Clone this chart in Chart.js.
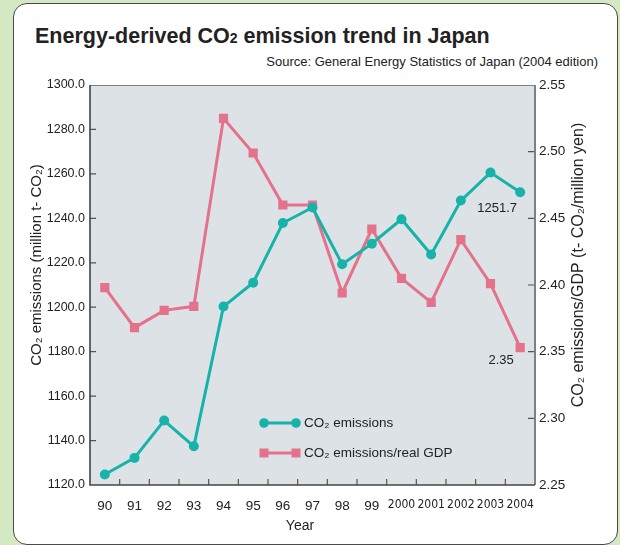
<!DOCTYPE html>
<html>
<head>
<meta charset="utf-8">
<script src="https://cdn.jsdelivr.net/npm/chart.js@4.4.1/dist/chart.umd.min.js"></script>
<style>
  html, body { margin: 0; padding: 0; }
  body { width: 620px; height: 545px; background: #d4e8c4; position: relative; overflow: hidden;
         font-family: "Liberation Sans", Arial, sans-serif; }
  .card { position: absolute; left: 13px; top: 3px; width: 603px; height: 540px;
          background: #fff; border: 1.5px solid #4a4a4a; border-radius: 14px; }
  .title { position: absolute; left: 35px; top: 24px; font-size: 21.5px; font-weight: bold; color: #222; }
  .title sub { font-size: 14px; vertical-align: baseline; }
  .source { position: absolute; right: 22px; top: 54px; font-size: 13px; color: #222; }
  canvas { position: absolute; left: 0; top: 0; }
</style>
</head>
<body>
<div class="card"></div>
<div class="title">Energy-derived CO<sub>2</sub> emission trend in Japan</div>
<div class="source">Source: General Energy Statistics of Japan (2004 edition)</div>
<canvas id="chart" width="620" height="545"></canvas>
<script>
const years = ['90', '91', '92', '93', '94', '95', '96', '97', '98', '99', '2000', '2001', '2002', '2003', '2004'];
const co2Emissions = [1124.7, 1132.2, 1149.0, 1137.4, 1200.3, 1211.0, 1237.9, 1244.9, 1219.3, 1228.6, 1239.6, 1223.7, 1248.0, 1260.6, 1251.7];
const co2PerGdp = [2.398, 2.368, 2.381, 2.384, 2.525, 2.499, 2.460, 2.460, 2.394, 2.442, 2.405, 2.387, 2.434, 2.401, 2.353];
const lastLabels = ['1251.7', '2.35'];

const teal = '#17b3ab';
const pink = '#e3728a';
const ink = '#222';
const sans = '"Liberation Sans", Arial, sans-serif';
const narrow = '"Liberation Sans Narrow", "DejaVu Sans Condensed", sans-serif';

// plot background, frame and inward ticks
const framePlugin = {
    id: 'frame',
    beforeDatasetsDraw(chart) {
        const {ctx, chartArea: a, scales} = chart;
        ctx.save();
        ctx.fillStyle = '#dde2e6';
        ctx.fillRect(a.left, a.top, a.right - a.left, a.bottom - a.top);

        ctx.strokeStyle = '#555';
        ctx.lineWidth = 1.2;
        ctx.beginPath();
        scales.y.ticks.forEach((t, i) => {
            if (i === 0 || i === scales.y.ticks.length - 1) return;
            const p = scales.y.getPixelForValue(t.value);
            ctx.moveTo(a.left, p); ctx.lineTo(a.left + 6, p);
        });
        scales.y1.ticks.forEach((t, i) => {
            if (i === 0 || i === scales.y1.ticks.length - 1) return;
            const p = scales.y1.getPixelForValue(t.value);
            ctx.moveTo(a.right - 7, p); ctx.lineTo(a.right, p);
        });
        for (let i = 0; i < years.length - 1; i++) {
            const p = (scales.x.getPixelForTick(i) + scales.x.getPixelForTick(i + 1)) / 2;
            ctx.moveTo(p, a.bottom); ctx.lineTo(p, a.bottom - 6);
        }
        ctx.stroke();

        // top + right edges (grey)
        ctx.strokeStyle = '#808080';
        ctx.lineWidth = 1;
        ctx.beginPath();
        ctx.moveTo(a.left, a.top + 0.5); ctx.lineTo(a.right, a.top + 0.5);
        ctx.stroke();
        ctx.lineWidth = 2;
        ctx.beginPath();
        ctx.moveTo(a.right, a.top); ctx.lineTo(a.right, a.bottom);
        ctx.stroke();
        // left + bottom edges (dark)
        ctx.strokeStyle = '#444';
        ctx.lineWidth = 1.6;
        ctx.beginPath();
        ctx.moveTo(a.left, a.top); ctx.lineTo(a.left, a.bottom); ctx.lineTo(a.right, a.bottom);
        ctx.stroke();
        ctx.restore();
    },
    afterDraw(chart) {
        const {ctx} = chart;
        ctx.save();
        ctx.fillStyle = ink;

        // axis titles
        ctx.font = '15px ' + sans;
        ctx.textAlign = 'center';
        ctx.textBaseline = 'middle';
        ctx.save();
        ctx.translate(37, 265);
        ctx.rotate(-Math.PI / 2);
        ctx.fillText('CO₂ emissions (million t- CO₂)', 0, 0);
        ctx.restore();
        ctx.font = '16px ' + sans;
        ctx.save();
        ctx.translate(579, 265);
        ctx.rotate(-Math.PI / 2);
        ctx.fillText('CO₂ emissions/GDP (t- CO₂/million yen)', 0, 0);
        ctx.restore();
        ctx.font = '14px ' + sans;
        ctx.fillText('Year', 300, 526);

        // end labels
        ctx.font = '13px ' + sans;
        const p0 = chart.getDatasetMeta(0).data[years.length - 1];
        const p1 = chart.getDatasetMeta(1).data[years.length - 1];
        ctx.fillText(lastLabels[0], p0.x - 23, p0.y + 16);
        ctx.fillText(lastLabels[1], p1.x - 19, p1.y + 13);

        // legend
        const lx1 = 264, lx2 = 296;
        const ly = [423, 453];
        ctx.lineWidth = 3;
        ctx.strokeStyle = teal;
        ctx.beginPath(); ctx.moveTo(lx1, ly[0]); ctx.lineTo(lx2, ly[0]); ctx.stroke();
        ctx.fillStyle = teal;
        [lx1, lx2].forEach(x => { ctx.beginPath(); ctx.arc(x, ly[0], 4.8, 0, Math.PI * 2); ctx.fill(); });
        ctx.strokeStyle = pink;
        ctx.beginPath(); ctx.moveTo(lx1, ly[1]); ctx.lineTo(lx2, ly[1]); ctx.stroke();
        ctx.fillStyle = pink;
        [lx1, lx2].forEach(x => ctx.fillRect(x - 4.5, ly[1] - 4.5, 9, 9));
        ctx.fillStyle = ink;
        ctx.textAlign = 'left';
        ctx.font = '13.5px ' + sans;
        ctx.fillText(chart.data.datasets[0].label, 304, ly[0]);
        ctx.fillText(chart.data.datasets[1].label, 304, ly[1]);
        ctx.restore();
    }
};

const chart = document.querySelector('#chart').getContext('2d');

new Chart(chart, {
    type: 'line',
    data: {
        labels: years,
        datasets: [
            {
                label: 'CO₂ emissions',
                data: co2Emissions,
                yAxisID: 'y',
                borderColor: teal,
                backgroundColor: teal,
                borderWidth: 3,
                pointStyle: 'circle',
                pointRadius: 5,
                pointBorderWidth: 0,
                tension: 0
            },
            {
                label: 'CO₂ emissions/real GDP',
                data: co2PerGdp,
                yAxisID: 'y1',
                borderColor: pink,
                backgroundColor: pink,
                borderWidth: 3,
                pointStyle: 'rect',
                pointRadius: 6.5,
                pointBorderWidth: 0,
                tension: 0
            }
        ]
    },
    options: {
        responsive: false,
        animation: false,
        layout: { padding: { top: 85, left: 0, right: 0, bottom: 0 } },
        plugins: { legend: { display: false }, tooltip: { enabled: false } },
        scales: {
            x: {
                offset: true,
                grid: { display: false, drawTicks: false },
                border: { display: false },
                ticks: {
                    color: ink,
                    padding: 13,
                    maxRotation: 0,
                    autoSkip: false,
                    font: (c) => c.index >= 10
                        ? { family: narrow, size: 12 }
                        : { family: sans, size: 13.5 }
                },
                afterFit: (s) => { s.height = 60; }
            },
            y: {
                position: 'left',
                min: 1120,
                max: 1300,
                grid: { display: false, drawTicks: false },
                border: { display: false },
                ticks: {
                    stepSize: 20,
                    color: ink,
                    padding: 5,
                    font: { family: sans, size: 12.5 },
                    callback: (v) => Number(v).toFixed(1)
                },
                afterFit: (s) => { s.width = 90; }
            },
            y1: {
                position: 'right',
                min: 2.25,
                max: 2.55,
                grid: { display: false, drawTicks: false },
                border: { display: false },
                ticks: {
                    stepSize: 0.05,
                    color: ink,
                    padding: 4,
                    font: { family: sans, size: 13.5 },
                    callback: (v) => Number(v).toFixed(2)
                },
                afterFit: (s) => { s.width = 85; }
            }
        }
    },
    plugins: [framePlugin]
});
</script>
</body>
</html>
